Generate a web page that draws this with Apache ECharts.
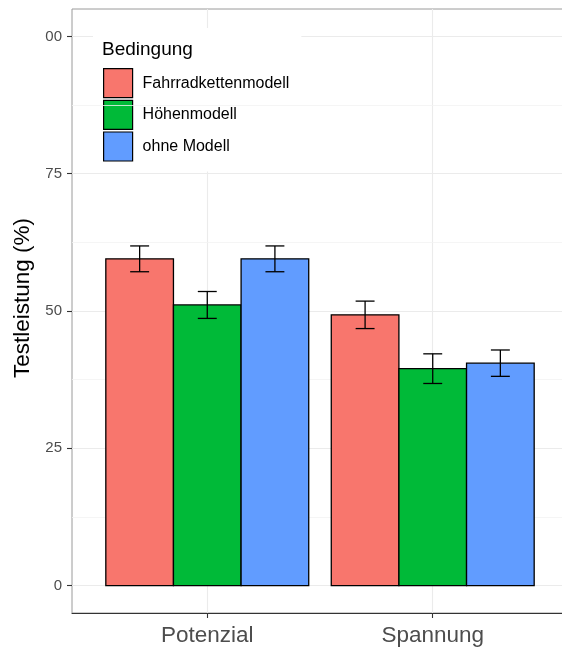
<!DOCTYPE html>
<html>
<head>
<meta charset="utf-8">
<script src="https://cdn.jsdelivr.net/npm/echarts@6/dist/echarts.min.js"></script>
<style>
html,body{margin:0;padding:0;background:#fff;}
#chart{width:562px;height:647px;}
</style>
</head>
<body>
<div id="chart"></div>
<script>
// ---- data ----
const categories = ['Potenzial', 'Spannung'];
const conditions = ['Fahrradkettenmodell', 'Höhenmodell', 'ohne Modell'];
const fahrradValues = [59.5, 49.3];
const fahrradErrors = [2.35, 2.5];
const hoehenValues = [51.1, 39.5];
const hoehenErrors = [2.45, 2.7];
const ohneValues = [59.5, 40.5];
const ohneErrors = [2.35, 2.4];
const yTickValues = [0, 25, 50, 75, 100];
const yTickLabels = ['0', '25', '50', '75', '00'];
const yMinorValues = [12.5, 37.5, 62.5, 87.5];
const legendTitle = 'Bedingung';
const yTitle = 'Testleistung (%)';

// ---- styling ----
const colors = ['#F8766D', '#00BA38', '#619CFF'];
const offsets = [-0.3, 0, 0.3];
const barHalf = 0.15;
const capHalf = 0.042;

const valueSets = [fahrradValues, hoehenValues, ohneValues];
const errorSets = [fahrradErrors, hoehenErrors, ohneErrors];

function makeRender(idx) {
  return function (params, api) {
    const xc = api.value(0) + offsets[idx];
    const v = api.value(1), e = api.value(2);
    const p0 = api.coord([xc - barHalf, v]);
    const p1 = api.coord([xc + barHalf, 0]);
    const eTop = api.coord([xc, v + e]);
    const eBot = api.coord([xc, v - e]);
    const cl = api.coord([xc - capHalf, 0])[0];
    const cr = api.coord([xc + capHalf, 0])[0];
    const ls = {stroke: '#000', lineWidth: 1.3};
    return {
      type: 'group',
      children: [
        {type: 'rect', shape: {x: p0[0], y: p0[1], width: p1[0] - p0[0], height: p1[1] - p0[1]},
         style: {fill: colors[idx], stroke: '#000', lineWidth: 1.3}},
        {type: 'line', shape: {x1: eTop[0], y1: eTop[1], x2: eBot[0], y2: eBot[1]}, style: ls},
        {type: 'line', shape: {x1: cl, y1: eTop[1], x2: cr, y2: eTop[1]}, style: ls},
        {type: 'line', shape: {x1: cl, y1: eBot[1], x2: cr, y2: eBot[1]}, style: ls}
      ]
    };
  };
}

const series = conditions.map(function (name, idx) {
  return {
    name: name,
    type: 'custom',
    z: 5,
    itemStyle: {color: colors[idx]},
    renderItem: makeRender(idx),
    encode: {x: 0, y: 1},
    data: categories.map(function (c, i) {
      return [i + 1, valueSets[idx][i], errorSets[idx][i]];
    })
  };
});

series.unshift({
  name: 'minorGrid',
  type: 'line',
  data: [],
  z: 1,
  silent: true,
  markLine: {
    silent: true,
    symbol: ['none', 'none'],
    label: {show: false},
    lineStyle: {color: '#f2f2f2', width: 0.8, type: 'solid'},
    emphasis: {disabled: true},
    data: yMinorValues.map(function (v) { return {yAxis: v}; })
  }
});

const chart = echarts.init(document.getElementById('chart'), null, {renderer: 'canvas'});
chart.setOption({
  animation: false,
  backgroundColor: '#fff',
  textStyle: {fontFamily: '"Liberation Sans", Arial, Helvetica, sans-serif'},
  grid: {left: 72, top: 9, width: 496, height: 604, outerBoundsMode: 'none', containLabel: false,
         show: true, borderColor: '#9a9a9a', borderWidth: 1, backgroundColor: 'transparent'},
  xAxis: {
    type: 'value',
    min: 0.4,
    max: 2.6,
    axisLine: {show: true, onZero: false, lineStyle: {color: '#333', width: 1.1}},
    axisTick: {show: true, customValues: [1, 2], length: 5, lineStyle: {color: '#333', width: 1.1}},
    axisLabel: {
      customValues: [1, 2],
      formatter: function (v) { return categories[Math.round(v) - 1]; },
      fontSize: 22.5,
      color: '#4d4d4d',
      margin: 11
    },
    splitLine: {show: true, lineStyle: {color: '#ebebeb', width: 1.1}}
  },
  yAxis: {
    type: 'value',
    min: -5,
    max: 105,
    name: yTitle,
    nameLocation: 'middle',
    nameGap: 37,
    nameTextStyle: {fontSize: 22.5, color: '#000', padding: [0, 0, 0, 26]},
    axisLine: {show: false},
    axisTick: {show: true, customValues: yTickValues, length: 5, lineStyle: {color: '#333', width: 1.1}},
    axisLabel: {
      customValues: yTickValues,
      formatter: function (v) { const i = yTickValues.indexOf(v); return i >= 0 ? yTickLabels[i] : ''; },
      fontSize: 15,
      color: '#4d4d4d',
      margin: 10
    },
    splitLine: {show: true, lineStyle: {color: '#ebebeb', width: 1.1}}
  },
  legend: {
    orient: 'vertical',
    left: 93,
    top: 28,
    padding: [40, 12, 10, 10],
    backgroundColor: '#fff',
    itemWidth: 29,
    itemHeight: 29,
    itemGap: 1.5,
    icon: 'rect',
    selectedMode: false,
    itemStyle: {borderColor: '#000', borderWidth: 1.2},
    textStyle: {fontSize: 16, color: '#000', padding: [0, 0, 0, 5]},
    data: conditions.map(function (n, i) {
      return {name: n, itemStyle: {color: colors[i], borderColor: '#000', borderWidth: 1.2}};
    })
  },
  graphic: [{
    type: 'text',
    left: 102,
    top: 40,
    z: 100,
    style: {text: legendTitle, fontSize: 19, fill: '#000', fontFamily: '"Liberation Sans", Arial, sans-serif'}
  }],
  series: series
});
</script>
</body>
</html>
